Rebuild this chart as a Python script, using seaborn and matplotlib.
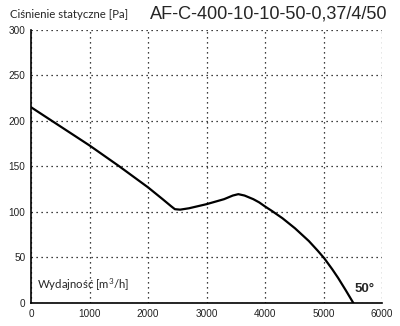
import matplotlib
matplotlib.use("Agg")
import matplotlib.pyplot as plt
import seaborn as sns
import pandas as pd

# Fan characteristic: airflow [m3/h] vs static pressure [Pa]
airflow = [0, 500, 1000, 1500, 2000, 2250, 2400, 2460, 2550, 2700, 3000,
           3300, 3450, 3544, 3650, 3800, 3900, 4000, 4120, 4300, 4513, 4750,
           4900, 5014, 5150, 5250, 5380, 5510]
pressure = [215, 194, 173, 150.5, 127, 114, 106, 103, 102.5, 104, 108.5,
            114, 118, 119.5, 118, 114, 110.5, 106, 101, 93, 82, 68,
            57.5, 49, 37, 27.5, 14, 0]

x_ticks = [0, 1000, 2000, 3000, 4000, 5000, 6000]
y_ticks = [0, 50, 100, 150, 200, 250, 300]

title_text = "AF-C-400-10-10-50-0,37/4/50"
y_label = "Ciśnienie statyczne [Pa]"
x_label = "Wydajność [m$^3$/h]"
angle_label = "50°"

df = pd.DataFrame({"airflow": airflow, "pressure": pressure})

sns.set_style("white")
plt.rcParams["font.family"] = ["Liberation Sans", "DejaVu Sans"]
plt.rcParams["mathtext.fontset"] = "custom"
plt.rcParams["mathtext.rm"] = "Lato"

fig = plt.figure(figsize=(4.0, 3.26), dpi=100)
ax = fig.add_axes([0.0775, 0.0706, 0.8775, 0.838])

sns.lineplot(data=df, x="airflow", y="pressure", ax=ax, color="black",
             linewidth=1.6, sort=False)

ax.set_xlim(0, 6000)
ax.set_ylim(0, 300)
ax.set_xticks(x_ticks)
ax.set_yticks(y_ticks)
ax.set_xticklabels([str(t) for t in x_ticks], fontsize=7.2, color="#222222")
ax.set_yticklabels([str(t) for t in y_ticks], fontsize=7.2, color="#222222")
ax.tick_params(length=0, pad=4)

ax.grid(True, linestyle=(0, (1, 3)), color="black", linewidth=0.9)
for side in ("top", "right"):
    ax.spines[side].set_visible(False)
for side in ("left", "bottom"):
    ax.spines[side].set_color("black")
    ax.spines[side].set_linewidth(1.2)
ax.set_xlabel("")
ax.set_ylabel("")

fig.text(0.025, 0.957, y_label, fontsize=8.2, family="Lato",
         ha="left", va="center")
fig.text(0.968, 0.957, title_text, fontsize=13.1, ha="right", va="center")
ax.text(0.017, 0.035, x_label, transform=ax.transAxes, fontsize=8.2,
        family="Lato", ha="left", va="bottom")
ax.text(0.978, 0.03, angle_label, transform=ax.transAxes, fontsize=9.5,
        fontweight="bold", ha="right", va="bottom")

fig.savefig("out.png", dpi=100)
